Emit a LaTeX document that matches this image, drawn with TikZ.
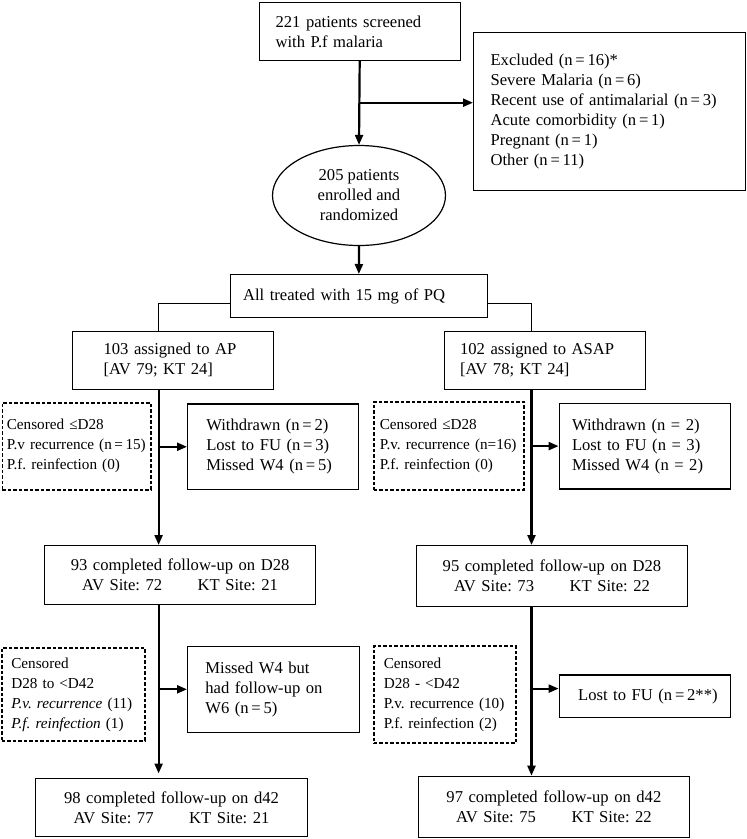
\documentclass[tikz,border=0pt]{standalone}
\usepackage{fontspec}
\setmainfont{Liberation Serif}
\frenchspacing
\usetikzlibrary{arrows.meta,shapes.geometric,positioning,calc}
\newcommand{\sitepair}[2]{\makebox[115.5pt][l]{AV Site: #1}KT Site: #2}
\tikzset{
    flowbox/.style={draw, rectangle, line width=1.2pt, anchor=north west, align=left, inner ysep=0pt},
    censbox/.style={flowbox, dash pattern=on 3.5pt off 2pt, line width=1.6pt, font=\fontsize{15.2}{20}\selectfont},
    countbox/.style={flowbox, align=center, inner xsep=5pt},
    flow/.style={-{Triangle[length=10pt, width=8pt]}, line width=2.2pt},
    link/.style={line width=1.2pt}
}

\begin{document}
\begin{tikzpicture}[x=1pt, y=1pt, font=\fontsize{16.6}{20}\selectfont]
    \useasboundingbox (0,0) rectangle (747,-839);
    \coordinate (lspine) at (158.6,0);
    \coordinate (rspine) at (531.5,0);
    \coordinate (exbranch) at (359,-102.7);

    \node[flowbox, minimum height=58pt, text width=168.2pt, inner xsep=16.4pt] (screened) at (258.6,-2) {221 patients screened\\with P.f malaria};
    \node[flowbox, minimum height=158.3pt, text width=238pt, inner xsep=17pt] (excluded) at (473,-31.7) {Excluded (n\,=\,16)*\\Severe Malaria (n\,=\,6)\\Recent use of antimalarial (n\,=\,3)\\Acute comorbidity (n\,=\,1)\\Pregnant (n\,=\,1)\\Other (n\,=\,11)};
    \node[draw, ellipse, line width=1.2pt, minimum width=173pt, minimum height=100pt, align=center, inner sep=0pt] (enrolled) at (359,-195.5) {205 patients\\enrolled and\\randomized};
    \node[flowbox, minimum height=43pt, text width=231.5pt, inner xsep=13pt] (pq) at (229.5,-274) {All treated with 15 mg of PQ};

    \node[flowbox, minimum height=58pt, text width=139pt, inner xsep=31pt] (ap) at (72,-330.7) {103 assigned to AP\\{[AV 79; KT 24]}};
    \node[flowbox, minimum height=58pt, text width=170pt, inner xsep=15.5pt] (asap) at (444,-330.7) {102 assigned to ASAP\\{[AV 78; KT 24]}};

    \node[censbox, minimum height=87pt, text width=139.5pt, inner xsep=4.5pt] (cens1) at (1.5,-402) {Censored ≤D28\\P.v~recurrence~(n\,=\,15)\\P.f. reinfection (0)};
    \node[flowbox, minimum height=85.7pt, text width=133.6pt, inner xsep=18.7pt] (wd1) at (187,-403.3) {Withdrawn (n\,=\,2)\\Lost to FU (n\,=\,3)\\Missed W4 (n\,=\,5)};
    \node[censbox, minimum height=87.7pt, text width=138pt, inner xsep=6pt] (cens2) at (373,-401.3) {Censored ≤D28\\P.v.~recurrence~(n=16)\\P.f. reinfection (0)};
    \node[flowbox, minimum height=85.6pt, text width=145.8pt, inner xsep=12.8pt] (wd2) at (558.6,-402.7) {Withdrawn (n = 2)\\Lost to FU (n = 3)\\Missed W4 (n = 2)};

    \node[countbox, minimum height=59pt, text width=261.4pt] (d28a) at (43.8,-545) {93 completed follow-up on D28\\\sitepair{72}{21}};
    \node[countbox, minimum height=61pt, text width=261.4pt] (d28b) at (415.7,-545) {95 completed follow-up on D28\\\sitepair{73}{22}};

    \node[censbox, minimum height=92.7pt, text width=124pt, inner xsep=9.5pt] (cens3) at (1,-647.3) {Censored\\D28 to <D42\\\textit{P.v.~recurrence}~(11)\\\textit{P.f. reinfection} (1)};
    \node[flowbox, minimum height=86pt, text width=136pt, inner xsep=17.8pt] (missed) at (187,-645.7) {Missed W4 but\\had follow-up on\\W6 (n\,=\,5)};
    \node[censbox, minimum height=97.3pt, text width=122pt, inner xsep=10pt] (cens4) at (373,-645) {Censored\\D28 - <D42\\P.v.~recurrence~(10)\\P.f. reinfection (2)};
    \node[flowbox, minimum height=42.4pt, text width=145pt, inner xsep=13.2pt] (lost) at (558.6,-674.3) {\hspace*{5.8pt}Lost~to~FU~(n\,=\,2**)};

    \node[countbox, minimum height=58.5pt, text width=262.2pt] (d42a) at (34.8,-777.5) {98 completed follow-up on d42\\\sitepair{77}{21}};
    \node[countbox, minimum height=61pt, text width=261.4pt] (d42b) at (417.6,-775.7) {97 completed follow-up on d42\\\sitepair{75}{22}};

    \draw[flow] (screened.south) -- (enrolled.north);
    \draw[flow] (exbranch) -- (exbranch -| excluded.west);
    \draw[flow] (enrolled.south) -- (pq.north);
    \draw[link] ([yshift=-7.5pt]pq.west) -| (lspine |- ap.north);
    \draw[link] ([yshift=-7.5pt]pq.east) -| (rspine |- asap.north);

    \draw[flow] (lspine |- ap.south) -- (lspine |- d28a.north);
    \draw[flow] (lspine |- wd1.west) -- (wd1.west);
    \draw[flow, shorten >=4pt] (lspine |- d28a.south) -- (lspine |- d42a.north);
    \draw[flow] (lspine |- missed.west) -- (missed.west);

    \draw[flow] (rspine |- asap.south) -- (rspine |- d28b.north);
    \draw[flow] (rspine |- wd2.west) -- (wd2.west);
    \draw[flow] (rspine |- d28b.south) -- (rspine |- d42b.north);
    \draw[flow] ([yshift=7.5pt]rspine |- lost.west) -- ([yshift=7.5pt]lost.west);
\end{tikzpicture}
\end{document}
